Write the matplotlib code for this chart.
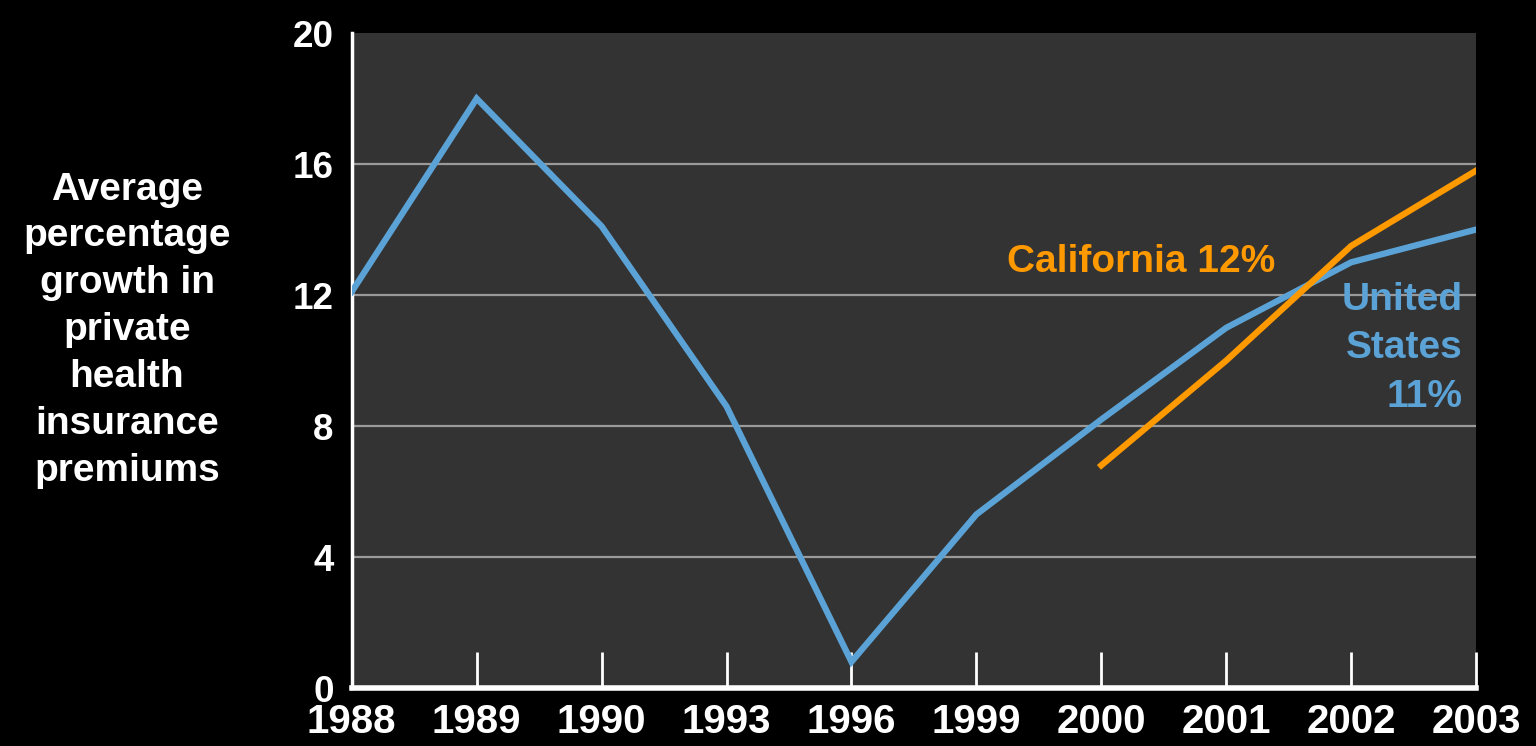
import matplotlib
matplotlib.use("Agg")
import matplotlib.pyplot as plt
import numpy as np

# 数据
years = ["1988", "1989", "1990", "1993", "1996", "1999", "2000", "2001", "2002", "2003"]
us_growth = [12.1, 18.0, 14.1, 8.6, 0.8, 5.3, 8.2, 11.0, 13.0, 14.0]
ca_years = ["2000", "2001", "2002", "2003"]
ca_growth = [6.8, 10.0, 13.5, 15.8]
y_ticks = [0, 4, 8, 12, 16, 20]

blue = "#5BA3D6"
orange = "#FF9900"

plt.rcParams['font.family'] = ['Liberation Sans', 'DejaVu Sans']

fig = plt.figure(figsize=(15.36, 7.46), dpi=100, facecolor="black")
ax = fig.add_axes([0.229, 0.0777, 0.732, 0.878])
ax.set_facecolor("#333333")

x = np.arange(len(years))
ca_x = [years.index(y) for y in ca_years]

ax.plot(x, us_growth, color=blue, lw=4.5, solid_joinstyle="miter", zorder=3)
ax.plot(ca_x, ca_growth, color=orange, lw=4.5, solid_joinstyle="miter", zorder=4)

ax.set_xlim(0, len(years) - 1)
ax.set_ylim(0, 20)
ax.set_yticks(y_ticks)
ax.set_yticklabels([str(v) for v in y_ticks], fontsize=26.5, fontweight="bold", color="white")
ax.set_xticks(x)
ax.set_xticklabels(years, fontsize=29, fontweight="bold", color="white")

# 网格线
for v in y_ticks[1:-1]:
    ax.axhline(v, color="#9a9a9a", lw=1.6, zorder=1)

ax.tick_params(axis="x", direction="in", length=26, width=2, color="white", pad=11)
ax.tick_params(axis="y", length=0, pad=13)

for s in ["top", "right"]:
    ax.spines[s].set_visible(False)
ax.spines["left"].set_color("white")
ax.spines["left"].set_linewidth(2.5)
ax.spines["bottom"].set_color("white")
ax.spines["bottom"].set_linewidth(4)
ax.spines["bottom"].set_zorder(5)

# 标注 (多行文本的 baseline 对齐最后一行)
ax.text(6.317, 12.70, "California 12%", color=orange, fontsize=28, fontweight="bold",
        ha="center", va="baseline")
ax.text(8.895, 8.58, "United\nStates\n11%", color=blue, fontsize=28, fontweight="bold",
        ha="right", va="baseline", linespacing=1.45)

fig.text(0.0827, 0.3552, "Average\npercentage\ngrowth in\nprivate\nhealth\ninsurance\npremiums",
         color="white", fontsize=28, fontweight="bold", ha="center", va="baseline",
         linespacing=1.39)

fig.savefig("out.png", dpi=100, facecolor="black")
